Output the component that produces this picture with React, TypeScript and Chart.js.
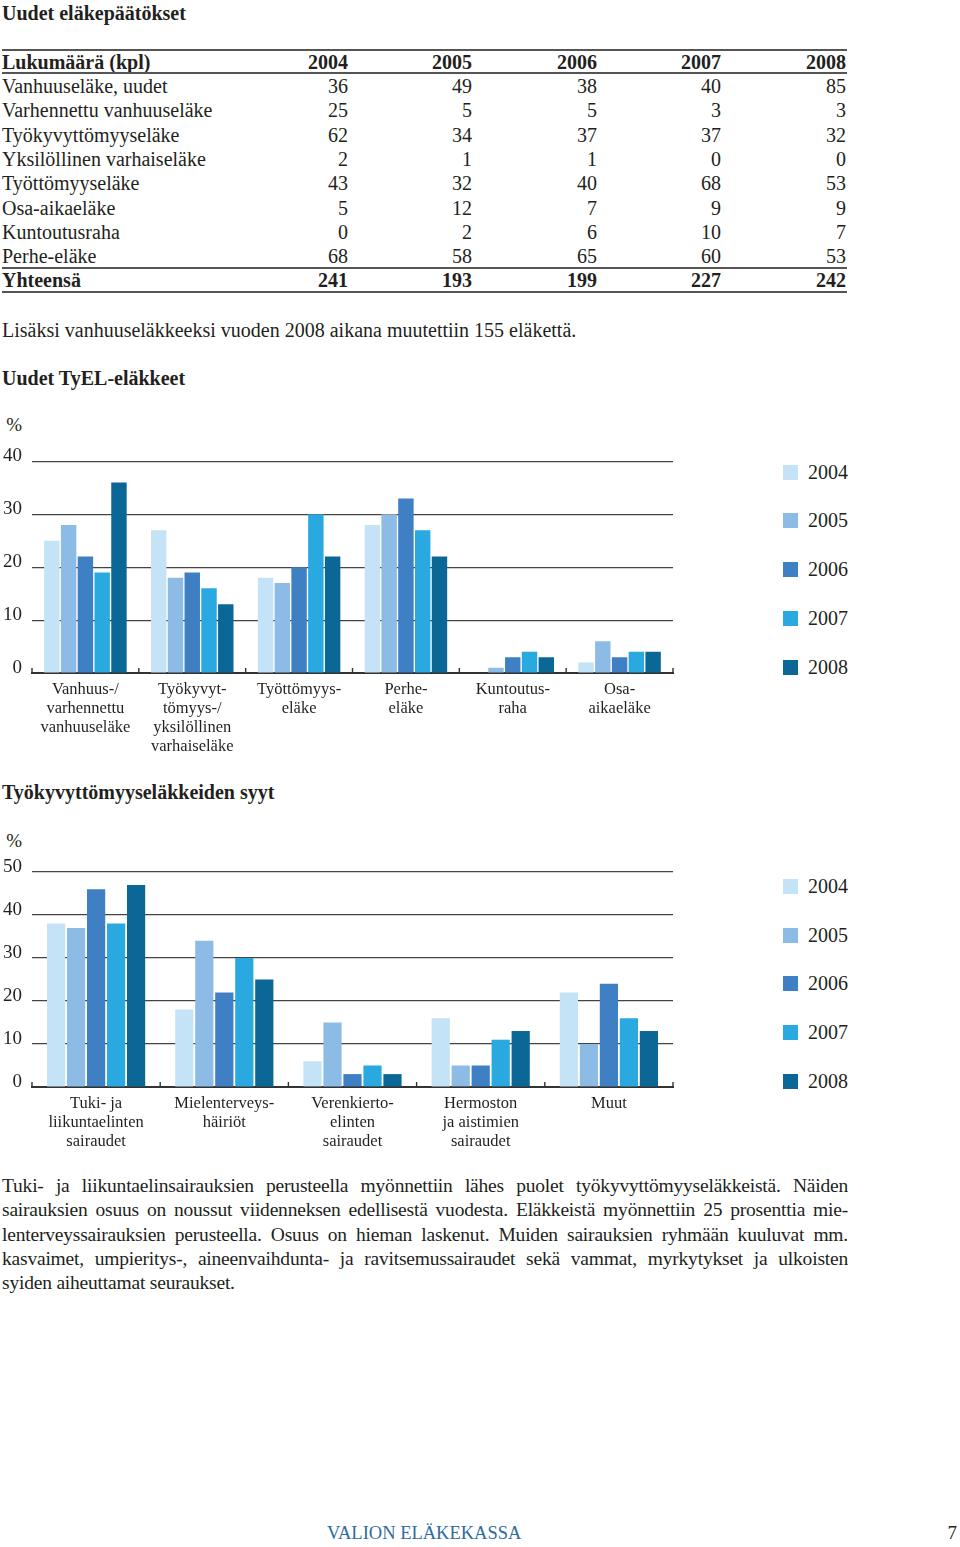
import React, { useEffect, useRef } from "react";
import { Chart, registerables } from "chart.js";

Chart.register(...registerables);

// ---------- Data ----------
const tableYears = ["2004", "2005", "2006", "2007", "2008"];
const tableHeaderLabel = "Lukumäärä (kpl)";
const rowLabels = [
  "Vanhuuseläke, uudet",
  "Varhennettu vanhuuseläke",
  "Työkyvyttömyyseläke",
  "Yksilöllinen varhaiseläke",
  "Työttömyyseläke",
  "Osa-aikaeläke",
  "Kuntoutusraha",
  "Perhe-eläke",
];
const vanhuuselakeUudet = [36, 49, 38, 40, 85];
const varhennettuVanhuuselake = [25, 5, 5, 3, 3];
const tyokyvyttomyyselake = [62, 34, 37, 37, 32];
const yksilollinenVarhaiselake = [2, 1, 1, 0, 0];
const tyottomyyselake = [43, 32, 40, 68, 53];
const osaAikaelake = [5, 12, 7, 9, 9];
const kuntoutusraha = [0, 2, 6, 10, 7];
const perheElake = [68, 58, 65, 60, 53];
const totalLabel = "Yhteensä";
const yhteensa = [241, 193, 199, 227, 242];

const seriesYears = ["2004", "2005", "2006", "2007", "2008"];
const seriesColors = ["#c4e3f7", "#8cbce5", "#3e80c3", "#2aa9e0", "#0b6896"];

const tyelCategories = [
  ["Vanhuus-/", "varhennettu", "vanhuuseläke"],
  ["Työkyvyt-", "tömyys-/", "yksilöllinen", "varhaiseläke"],
  ["Työttömyys-", "eläke"],
  ["Perhe-", "eläke"],
  ["Kuntoutus-", "raha"],
  ["Osa-", "aikaeläke"],
];
const tyel2004 = [25, 27, 18, 28, 0, 2];
const tyel2005 = [28, 18, 17, 30, 1, 6];
const tyel2006 = [22, 19, 20, 33, 3, 3];
const tyel2007 = [19, 16, 30, 27, 4, 4];
const tyel2008 = [36, 13, 22, 22, 3, 4];
const tyelTicks = [0, 10, 20, 30, 40];

const syyCategories = [
  ["Tuki- ja", "liikuntaelinten", "sairaudet"],
  ["Mielenterveys-", "häiriöt"],
  ["Verenkierto-", "elinten", "sairaudet"],
  ["Hermoston", "ja aistimien", "sairaudet"],
  ["Muut"],
];
const syy2004 = [38, 18, 6, 16, 22];
const syy2005 = [37, 34, 15, 5, 10];
const syy2006 = [46, 22, 3, 5, 24];
const syy2007 = [38, 30, 5, 11, 16];
const syy2008 = [47, 25, 3, 13, 13];
const syyTicks = [0, 10, 20, 30, 40, 50];

const paragraphLines = [
  "Tuki- ja liikuntaelinsairauksien perusteella myönnettiin lähes puolet työkyvyttömyyseläkkeistä. Näiden",
  "sairauksien osuus on noussut viidenneksen edellisestä vuodesta. Eläkkeistä myönnettiin 25 prosenttia mie-",
  "lenterveyssairauksien perusteella. Osuus on hieman laskenut. Muiden sairauksien ryhmään kuuluvat mm.",
  "kasvaimet, umpieritys-, aineenvaihdunta- ja ravitsemussairaudet sekä vammat, myrkytykset ja ulkoisten",
  "syiden aiheuttamat seuraukset.",
];

// ---------- Styles ----------
const FF = '"Liberation Serif", "Times New Roman", serif';
const INK = "#231f20";

type TxtProps = {
  x?: number;
  right?: number;
  y: number;
  size?: number;
  bold?: boolean;
  color?: string;
  children: React.ReactNode;
};

const Txt = ({ x, right, y, size = 20, bold = false, color = INK, children }: TxtProps) => {
  const lh = 24;
  const style: React.CSSProperties = {
    position: "absolute",
    top: y - lh / 2,
    lineHeight: lh + "px",
    fontSize: size,
    fontWeight: bold ? 700 : 400,
    color,
    whiteSpace: "nowrap",
  };
  if (right !== undefined) {
    style.left = right - 400;
    style.width = 400;
    style.textAlign = "right";
  } else {
    style.left = x;
  }
  return <div style={style}>{children}</div>;
};

const HLine = ({ y, w = 2 }: { y: number; w?: number }) => (
  <div
    style={{
      position: "absolute",
      left: 2,
      width: 845,
      top: y - w / 2,
      height: w,
      background: "#555",
    }}
  />
);

const boundaryTicks = {
  id: "boundaryTicks",
  afterDraw(chart: any) {
    const xs = chart.scales.x;
    const n = chart.data.labels.length;
    const p0 = xs.getPixelForValue(0);
    const p1 = xs.getPixelForValue(1);
    const half = (p1 - p0) / 2;
    const bottom = chart.chartArea.bottom;
    const ctx = chart.ctx;
    ctx.save();
    ctx.strokeStyle = "#333";
    ctx.lineWidth = 1.4;
    for (let i = 0; i <= n; i++) {
      const x = i < n ? xs.getPixelForValue(i) - half : xs.getPixelForValue(n - 1) + half;
      ctx.beginPath();
      ctx.moveTo(x, bottom);
      ctx.lineTo(x, bottom - 5);
      ctx.stroke();
    }
    ctx.restore();
  },
};

type BarProps = {
  top: number;
  height: number;
  padTop: number;
  xHeight: number;
  labels: string[][];
  series: number[][];
  ticks: number[];
  cp: number;
  bp: number;
};

const BarChart = ({ top, height, padTop, xHeight, labels, series, ticks, cp, bp }: BarProps) => {
  const ref = useRef<HTMLCanvasElement | null>(null);
  useEffect(() => {
    if (!ref.current) return;
    const chart = new Chart(ref.current, {
      type: "bar",
      data: {
        labels: labels as any,
        datasets: seriesYears.map((yr, i) => ({
          label: yr,
          data: series[i],
          backgroundColor: seriesColors[i],
          borderWidth: 0,
          categoryPercentage: cp,
          barPercentage: bp,
        })),
      },
      options: {
        animation: false,
        responsive: false,
        maintainAspectRatio: false,
        layout: { padding: { top: padTop, right: 2, left: 0, bottom: 0 } },
        plugins: { legend: { display: false }, tooltip: { enabled: false } },
        scales: {
          x: {
            grid: { display: false, drawTicks: false },
            border: { display: true, color: "#333", width: 2 },
            ticks: {
              font: { family: "Liberation Serif", size: 16.5, lineHeight: 1.15 },
              color: INK,
              padding: 7,
              maxRotation: 0,
              autoSkip: false,
            },
            afterFit: (s: any) => {
              s.height = xHeight;
            },
          },
          y: {
            min: ticks[0],
            max: ticks[ticks.length - 1],
            afterBuildTicks: (s: any) => {
              s.ticks = ticks.map((v) => ({ value: v }));
            },
            ticks: {
              font: { family: "Liberation Serif", size: 19 },
              color: INK,
              padding: 10,
              labelOffset: -5,
            },
            grid: { color: "#444", lineWidth: 1.2, drawTicks: false },
            border: { display: false },
            afterFit: (s: any) => {
              s.width = 32;
            },
          },
        },
      },
      plugins: [boundaryTicks],
    });
    return () => chart.destroy();
  }, []);
  return (
    <canvas
      ref={ref}
      width={675}
      height={height}
      style={{ position: "absolute", left: 0, top, width: 675, height }}
    />
  );
};

const Legend = ({ centers }: { centers: number[] }) => (
  <>
    {seriesYears.map((yr, i) => (
      <React.Fragment key={yr}>
        <div
          style={{
            position: "absolute",
            left: 783,
            top: centers[i] - 7.5,
            width: 15,
            height: 15,
            background: seriesColors[i],
          }}
        />
        <Txt x={808} y={centers[i]} size={20}>
          {yr}
        </Txt>
      </React.Fragment>
    ))}
  </>
);

export default function App() {
  const tableRows = [
    vanhuuselakeUudet,
    varhennettuVanhuuselake,
    tyokyvyttomyyselake,
    yksilollinenVarhaiselake,
    tyottomyyselake,
    osaAikaelake,
    kuntoutusraha,
    perheElake,
  ];
  const colRights = [348, 472, 597, 721, 846];
  const rowYs = [86, 110, 134.5, 159, 183, 207.5, 232, 256];

  return (
    <div
      style={{
        position: "absolute",
        left: 0,
        top: 0,
        width: 960,
        height: 1547,
        fontFamily: FF,
        color: INK,
        background: "#fff",
        overflow: "hidden",
      }}
    >
      <Txt x={2} y={13} bold>
        Uudet eläkepäätökset
      </Txt>

      <HLine y={50} w={2} />
      <Txt x={2} y={61.5} bold>
        {tableHeaderLabel}
      </Txt>
      {tableYears.map((yr, j) => (
        <Txt key={yr} right={colRights[j]} y={61.5} bold>
          {yr}
        </Txt>
      ))}
      <HLine y={73} w={1.6} />
      {rowLabels.map((lab, i) => (
        <React.Fragment key={lab}>
          <Txt x={2} y={rowYs[i]}>
            {lab}
          </Txt>
          {tableRows[i].map((v, j) => (
            <Txt key={j} right={colRights[j]} y={rowYs[i]}>
              {v}
            </Txt>
          ))}
        </React.Fragment>
      ))}
      <HLine y={268} w={1.6} />
      <Txt x={2} y={280} bold>
        {totalLabel}
      </Txt>
      {yhteensa.map((v, j) => (
        <Txt key={j} right={colRights[j]} y={280} bold>
          {v}
        </Txt>
      ))}
      <HLine y={292} w={1.6} />

      <Txt x={2} y={330}>
        Lisäksi vanhuuseläkkeeksi vuoden 2008 aikana muutettiin 155 eläkettä.
      </Txt>

      <Txt x={2} y={378} bold>
        Uudet TyEL-eläkkeet
      </Txt>
      <Txt right={22} y={425} size={19}>
        %
      </Txt>
      <BarChart
        top={440}
        height={323}
        padTop={19}
        xHeight={90}
        labels={tyelCategories}
        series={[tyel2004, tyel2005, tyel2006, tyel2007, tyel2008]}
        ticks={tyelTicks}
        cp={0.785}
        bp={0.92}
      />
      <Legend centers={[472, 520, 569, 618, 667]} />

      <Txt x={2} y={792} bold>
        Työkyvyttömyyseläkkeiden syyt
      </Txt>
      <Txt right={22} y={841} size={19}>
        %
      </Txt>
      <BarChart
        top={850}
        height={307}
        padTop={22}
        xHeight={70}
        labels={syyCategories}
        series={[syy2004, syy2005, syy2006, syy2007, syy2008]}
        ticks={syyTicks}
        cp={0.78}
        bp={0.91}
      />
      <Legend centers={[886, 935, 983, 1032, 1081]} />

      {paragraphLines.map((line, i) => (
        <div
          key={i}
          style={{
            position: "absolute",
            left: 2,
            width: 846,
            top: [1186, 1210, 1234.5, 1259, 1283][i] - 12,
            height: 24,
            overflow: "hidden",
            lineHeight: "24px",
            fontSize: 19.5,
            letterSpacing: "-0.2px",
            textAlign: "justify",
            textAlignLast: i < paragraphLines.length - 1 ? "justify" : "left",
          }}
        >
          {line}
        </div>
      ))}

      <Txt x={327} y={1533} size={18.5} color="#2f6aa0">
        VALION ELÄKEKASSA
      </Txt>
      <Txt right={957} y={1533} size={19}>
        7
      </Txt>
    </div>
  );
}
